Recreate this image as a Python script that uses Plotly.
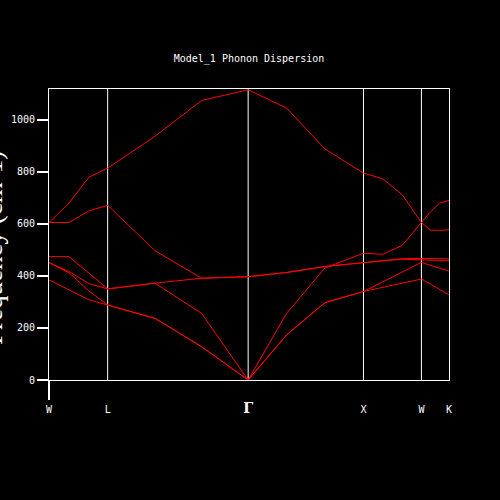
import plotly.graph_objects as go

# High-symmetry points along the path (path distance units)
kpoint_labels = ["W", "L", "Γ", "X", "W", "K"]
kpoint_pos = [0.0, 58.7, 199.3, 314.7, 372.7, 400.3]

# q-point positions along the path
q_x = [0, 20, 40, 58.7, 106, 152.7, 199.3, 237.7, 276.1, 314.7, 334, 353.4, 372.7, 382, 391, 400.3]

# Phonon branches (cm^-1)
branch_1 = [605, 680, 779, 814, 936, 1074, 1115, 1045, 888, 795, 773, 712, 605, 647, 680, 690]
branch_2 = [605, 605, 650, 671, 497, 391, 397, 413, 436, 452, 460, 466, 467, 468, 467, 465]
branch_3 = [474, 474, 410, 350, 372, 391, 397, 413, 436, 452, 458, 464, 462, 460, 459, 458]
branch_4 = [451, 417, 370, 350, 372, 256, 0, 256, 430, 487, 483, 517, 605, 576, 575, 577]
branch_5 = [451, 412, 342, 288, 237, 128, 0, 173, 297, 340, 377, 415, 452, 440, 430, 419]
branch_6 = [385, 345, 308, 288, 237, 128, 0, 173, 297, 340, 356, 372, 388, 368, 348, 327]
branches = [branch_1, branch_2, branch_3, branch_4, branch_5, branch_6]

y_ticks = [0, 200, 400, 600, 800, 1000]
y_max = 1118

title_text = "Model_1 Phonon Dispersion"
y_title = "Frequency (cm-1)"

mono = "DejaVu Sans Mono"

fig = go.Figure()

# vertical lines at interior high-symmetry points
vx, vy = [], []
for p in kpoint_pos[1:-1]:
    vx += [p, p, None]
    vy += [0, y_max, None]
fig.add_trace(go.Scatter(x=vx, y=vy, mode="lines",
                         line=dict(color="white", width=1), hoverinfo="skip"))

for b in branches:
    fig.add_trace(go.Scatter(x=q_x, y=b, mode="lines",
                             line=dict(color="#ff0000", width=1)))

ticktext = []
for lab in kpoint_labels:
    if lab == "Γ":
        ticktext.append("<b><span style='font-family:DejaVu Serif;font-size:14px'>Γ</span></b>")
    else:
        ticktext.append(lab)

fig.update_layout(
    width=500, height=500,
    paper_bgcolor="black", plot_bgcolor="black",
    margin=dict(l=49, r=51, t=89, b=120),
    showlegend=False,
    title=dict(text=title_text, x=0.498, xanchor="center", y=1 - 58 / 500, yanchor="middle",
               font=dict(family=mono, size=10, color="white")),
    xaxis=dict(range=[kpoint_pos[0], kpoint_pos[-1]], tickvals=kpoint_pos, ticktext=ticktext,
               showgrid=False, zeroline=False, showline=True, mirror=True,
               linecolor="white", linewidth=1, ticks="", ticklabelstandoff=20,
               tickfont=dict(family=mono, size=10, color="white")),
    yaxis=dict(range=[0, y_max], tickvals=y_ticks, showgrid=False, zeroline=False,
               showline=True, mirror=True, linecolor="white", linewidth=1,
               ticks="outside", ticklen=11, tickwidth=2, tickcolor="white",
               tickfont=dict(family=mono, size=10, color="white")),
    shapes=[dict(type="line", xref="paper", yref="paper", x0=0, x1=0, y0=-0.069, y1=0,
                 line=dict(color="white", width=2))],
    annotations=[dict(text=y_title, textangle=-90, xref="paper", yref="paper",
                      x=(-7 - 49) / 400, y=(380 - 248) / 291, xanchor="center", yanchor="middle",
                      showarrow=False,
                      font=dict(family="Liberation Serif", size=27, color="white"))],
)

fig.write_html("out.html", config={"displayModeBar": False},
               post_script="document.body.style.margin='0';document.body.style.background='black';")
